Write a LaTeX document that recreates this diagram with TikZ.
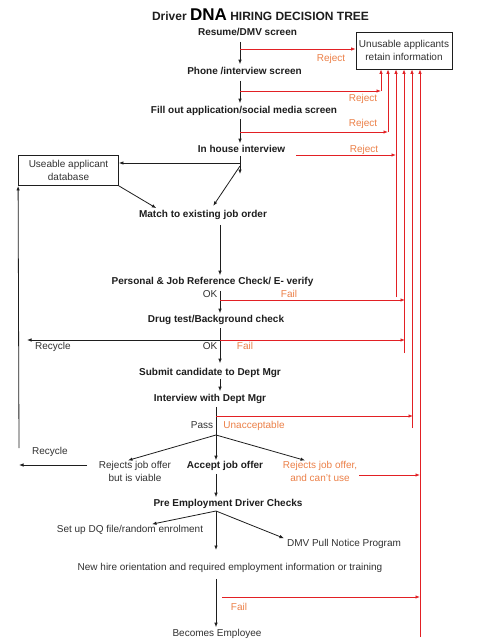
\documentclass[tikz,border=0pt]{standalone}
\usepackage{fontspec}
\setmainfont{Liberation Sans}
\usetikzlibrary{arrows.meta}
\definecolor{redline}{RGB}{226,32,36}
\definecolor{orangetxt}{RGB}{236,128,72}
\definecolor{darktxt}{RGB}{30,30,30}
\definecolor{graytxt}{RGB}{50,50,50}
\tikzset{
  txt/.style={inner sep=1pt, text height=7.3pt, text depth=2pt, font=\fontsize{10}{12}\selectfont, text=graytxt},
  stepbox/.style={txt, font=\fontsize{10}{12}\selectfont\bfseries, text=darktxt},
  rtxt/.style={txt, text=orangetxt},
  mtxt/.style={inner sep=1pt, align=center, font=\fontsize{10}{12.5}\selectfont, text=graytxt},
  boxnode/.style={draw=darktxt, line width=0.8pt, inner sep=0pt, align=center, font=\fontsize{10}{13}\selectfont, text=graytxt},
  arr/.style={draw=darktxt, line width=0.8pt, -{Latex[length=4.5pt,width=3.5pt]}},
  bline/.style={draw=darktxt, line width=0.8pt},
  rarr/.style={draw=redline, line width=0.8pt, -{Latex[length=4.5pt,width=3.5pt]}},
  rline/.style={draw=redline, line width=0.8pt},
}
\begin{document}
\begin{tikzpicture}[x=1pt,y=-1pt]
\useasboundingbox[fill=white] (0,0) rectangle (482,642);

% columns
\coordinate (colA) at (240,0);
\coordinate (colB) at (220,0);
\coordinate (colC) at (216,0);

% title
\node[inner sep=0pt, text=darktxt, font=\fontsize{12}{14}\selectfont\bfseries] (title) at (260.5,15)
  {Driver {\fontsize{17}{18}\selectfont\color{black}DNA}\ HIRING DECISION TREE};

% main steps
\node[stepbox] (n1) at (247.5,33) {Resume/DMV screen};
\node[stepbox] (n2) at (244.5,72) {Phone /interview screen};
\node[stepbox] (n3) at (244,111) {Fill out application/social media screen};
\node[stepbox] (n4) at (241.5,150) {In house interview};
\node[stepbox] (n5) at (203,215) {Match to existing job order};
\node[stepbox] (n6) at (212.5,282) {Personal \& Job Reference Check/ E- verify};
\node[stepbox] (n7) at (216,320) {Drug test/Background check};
\node[stepbox] (n8) at (210,373) {Submit candidate to Dept Mgr};
\node[stepbox] (n9) at (210,399) {Interview with Dept Mgr};
\node[mtxt] (n10) at (135,471.5) {Rejects job offer\\but is viable};
\node[stepbox] (n11) at (225,466) {Accept job offer};
\node[mtxt, text=orangetxt] (n12) at (320,471.5) {Rejects job offer,\\and can't use};
\node[stepbox] (n13) at (228,504) {Pre Employment Driver Checks};
\node[txt] (n14) at (130,530) {Set up DQ file/random enrolment};
\node[txt] (n15) at (344,544) {DMV Pull Notice Program};
\node[txt] (n16) at (230,568) {New hire orientation and required employment information or training};
\node[txt] (n17) at (217,634) {Becomes Employee};

% boxes
\node[boxnode, minimum width=100pt, minimum height=30pt] (ub) at (68.5,170.5) {Useable applicant\\database};
\node[boxnode, minimum width=96pt, minimum height=37pt] (ua) at (404,50.5) {Unusable applicants\\retain information};

% small labels
\node[txt] (ok1) at (210,295) {OK};
\node[rtxt] (fail1) at (289,295) {Fail};
\node[txt] (rec1) at (53,347) {Recycle};
\node[txt] (ok2) at (210,347) {OK};
\node[rtxt] (fail2) at (245,347) {Fail};
\node[txt] (pass) at (202,426) {Pass};
\node[rtxt] (unacc) at (254,426) {Unacceptable};
\node[txt] (rec2) at (50,452) {Recycle};
\node[rtxt] (fail3) at (239,608) {Fail};
\node[rtxt] (rej1) at (331,59) {Reject};
\node[rtxt] (rej2) at (363,99) {Reject};
\node[rtxt] (rej3) at (363,124) {Reject};
\node[rtxt] (rej4) at (364,150) {Reject};

% ---- black connectors ----
\draw[arr, shorten <=3pt, shorten >=2pt] (n1.south -| colA) -- (n2.north -| colA);
\draw[arr, shorten <=3pt, shorten >=2pt] (n2.south -| colA) -- (n3.north -| colA);
\draw[arr, shorten <=2pt, shorten >=1pt] (n3.south -| colA) -- (n4.north -| colA);
\coordinate (stub1) at (240,174);
\draw[arr] (n4.south -| colA) -- (stub1);
\coordinate (h1) at (240,163);
\draw[arr] (h1) -- (ub.east |- h1);
\coordinate (d1) at (240,166);
\draw[arr, shorten >=4pt] (d1) -- ([xshift=8pt]n5.north);
\draw[arr, shorten >=2pt] (ub.south east) -- ([xshift=-45pt]n5.north);
\draw[arr, shorten <=4pt, shorten >=1pt] (n5.south -| colB) -- (n6.north -| colB);
\draw[arr, shorten <=3pt, shorten >=1pt] (n6.south -| colB) -- (n7.north -| colB);
\draw[arr, shorten <=2pt, shorten >=4pt] (n7.south -| colB) -- (n8.north -| colB);
\coordinate (rc1) at (220,340);
\coordinate (rc1e) at (27,340);
\draw[arr] (rc1) -- (rc1e);
\draw[arr, shorten <=0pt, shorten >=2pt] (n8.south -| colB) -- (n9.north -| colB);
\coordinate (sp) at (216,435);
\draw[bline, shorten <=2pt] (n9.south -| colC) -- (sp);
\draw[arr] (sp) -- ([xshift=-7pt]n10.north);
\draw[arr] (sp) -- (n11.north -| sp);
\draw[arr] (sp) -- ([xshift=-15pt]n12.north);
\coordinate (rc2s) at (87,465);
\coordinate (lft) at (19,448);
\draw[arr] (rc2s) -- (20,465 -| lft);
\draw[arr] (lft) -- (ub.south west);
\draw[arr, shorten <=2pt, shorten >=1pt] (n11.south -| colC) -- (n13.north -| colC);
\coordinate (sp2) at (216,511);
\draw[arr] (sp2) -- ([xshift=22pt]n14.north);
\coordinate (stub2) at (216,550);
\draw[arr] (sp2) -- (stub2);
\draw[arr, shorten >=2pt] (sp2) -- ([yshift=5pt]n15.west);
\draw[arr, shorten <=5pt, shorten >=1pt] (n16.south -| colC) -- (n17.north -| colC);

% ---- red connectors ----
\coordinate (r1) at (240,49);
\draw[rarr] (r1) -- (ua.west |- r1);

\coordinate (r2s) at (240,91);
\coordinate (r2e) at (381,91);
\draw[rarr] (r2s) -- (r2e);
\draw[rarr] (r2e) -- (r2e |- ua.south);

\coordinate (r3s) at (240,132);
\coordinate (r3e) at (388,132);
\draw[rarr] (r3s) -- (r3e);
\draw[rarr] (r3e) -- (r3e |- ua.south);

\coordinate (r4s) at (296,155);
\coordinate (r4e) at (396,155);
\coordinate (v4) at (396,297);
\draw[rarr] (r4s) -- (r4e);
\draw[rarr] (v4) -- (v4 |- ua.south);

\coordinate (f1s) at (220,300);
\coordinate (f1e) at (405,300);
\draw[rarr] (f1s) -- (f1e);
\coordinate (f2s) at (220,340);
\coordinate (f2e) at (405,340);
\draw[rarr] (f2s) -- (f2e);
\coordinate (v5) at (404,353);
\draw[rarr] (v5) -- (v5 |- ua.south);

\coordinate (us) at (216,416);
\coordinate (ue) at (413,416);
\draw[rarr] (us) -- (ue);
\coordinate (v6) at (412,428);
\draw[rarr] (v6) -- (v6 |- ua.south);

\coordinate (ce) at (420,475);
\draw[rarr] ([xshift=1pt]n12.east |- ce) -- (ce);
\coordinate (f3s) at (222,597);
\coordinate (f3e) at (420,597);
\draw[rarr] (f3s) -- (f3e);
\coordinate (v7) at (420,637);
\draw[rarr] (v7) -- (v7 |- ua.south);
\end{tikzpicture}
\end{document}
